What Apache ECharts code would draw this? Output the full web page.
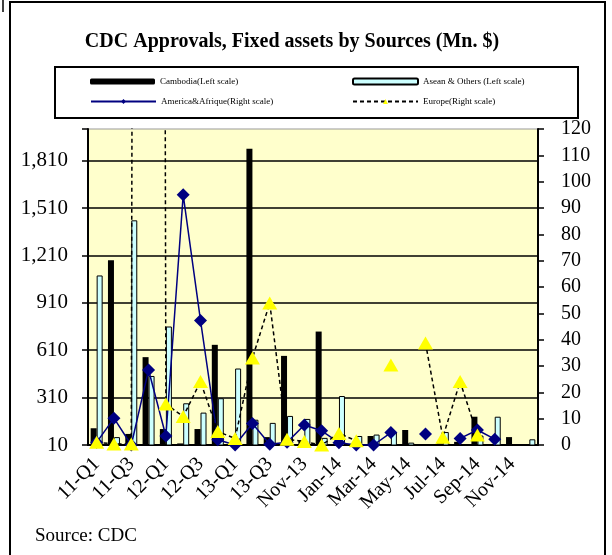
<!DOCTYPE html>
<html>
<head>
<meta charset="utf-8">
<script src="https://cdn.jsdelivr.net/npm/echarts@6/dist/echarts.min.js"></script>
<style>
  html, body { margin: 0; padding: 0; background: #fff; }
  #chart { width: 612px; height: 555px; }
</style>
</head>
<body>
<div id="chart"></div>
<script>
// categories, two per tick on the x axis
const categories = ['11-Q1', '11-Q2', '11-Q3', '11-Q4', '12-Q1', '12-Q2', '12-Q3', '12-Q4',
  '13-Q1', '13-Q2', '13-Q3', 'Oct-13', 'Nov-13', 'Dec-13', 'Jan-14', 'Feb-14', 'Mar-14',
  'Apr-14', 'May-14', 'Jun-14', 'Jul-14', 'Aug-14', 'Sep-14', 'Oct-14', 'Nov-14', 'Dec-14']

// left scale (Mn. $)
const cambodia = [116, 1180, 80, 566, 111, 20, 111, 644, 15, 1885, 60, 574, 40, 728, 15, 12,
  67, 0, 105, 0, 20, 30, 189, 0, 60, 0]
const asean = [1083, 60, 1432, 447, 760, 274, 215, 306, 494, 170, 150, 194, 175, 55, 320, 67,
  76, 92, 25, 0, 92, 0, 70, 189, 0, 46]

// right scale (Mn. $)
const america = [1, 10.2, 0, 28.5, 3.4, 95, 47.3, 2, 0, 8.2, 0.3, 1, 7.6, 5.4, 0.9, 0, 0,
  4.7, null, 4.2, null, 2.5, 5.7, 2.2, null, null]
const europe = [1, 0.4, 0.4, 3000, 15.6, 10.8, 24.1, 5.1, 2.5, 33, 53.9, 2.2, 1.3, 0, 4.4, 1.6,
  null, 30.4, null, 38.7, 2.9, 24.1, 3.8, null, null, null]

const names = ['Cambodia(Left scale)', 'Asean & Others (Left scale)',
  'America&Afrique(Right scale)', 'Europe(Right scale)']

const serif = 'Liberation Serif'
const chart = echarts.init(document.getElementById('chart'))

function legendAt(name, left, top) {
  return {
    data: [name],
    left: left,
    top: top,
    padding: 0,
    itemWidth: 65,
    itemHeight: 6,
    textStyle: { fontFamily: serif, fontSize: 9, color: '#000' }
  }
}

const option = {
  animation: false,
  backgroundColor: '#fff',
  title: {
    text: 'CDC Approvals, Fixed assets by Sources (Mn. $)',
    left: 287,
    textAlign: 'center',
    top: 27,
    textStyle: { fontFamily: serif, fontSize: 20, fontWeight: 'bold', color: '#000' }
  },
  legend: [
    legendAt(names[0], 90, 77),
    legendAt(names[1], 352, 77),
    legendAt(names[2], 90, 97),
    legendAt(names[3], 352, 97)
  ],
  grid: {
    left: 88,
    right: 74,
    top: 129,
    bottom: 110,
    show: true,
    backgroundColor: '#FFFFCC',
    borderColor: '#999',
    borderWidth: 1
  },
  xAxis: {
    type: 'category',
    data: categories,
    axisLine: { lineStyle: { color: '#000', width: 2 } },
    axisTick: { interval: 1, length: 5, lineStyle: { color: '#000', width: 1.5 } },
    axisLabel: {
      interval: 1,
      rotate: 45,
      margin: 16,
      fontFamily: serif,
      fontSize: 20,
      color: '#000'
    }
  },
  yAxis: [
    {
      type: 'value',
      min: 10,
      max: 2010,
      interval: 300,
      axisLine: { show: true, lineStyle: { color: '#000', width: 2 } },
      axisTick: { show: true, length: 6, lineStyle: { color: '#000', width: 1.5 } },
      axisLabel: {
        margin: 20,
        fontFamily: serif,
        fontSize: 21,
        color: '#000',
        formatter: v => v > 2000 ? '' : v.toLocaleString('en-US')
      },
      splitLine: { show: true, showMaxLine: false, lineStyle: { color: '#000', width: 1.5 } }
    },
    {
      type: 'value',
      min: 0,
      max: 120,
      interval: 10,
      position: 'right',
      axisLine: { show: true, lineStyle: { color: '#000', width: 2 } },
      axisTick: { show: true, length: 6, lineStyle: { color: '#000', width: 1.5 } },
      axisLabel: { margin: 23, fontFamily: serif, fontSize: 20, color: '#000' },
      splitLine: { show: false }
    }
  ],
  series: [
    {
      name: names[0],
      type: 'bar',
      yAxisIndex: 0,
      data: cambodia,
      barWidth: 6,
      barGap: '0%',
      clip: true,
      itemStyle: { color: '#000' }
    },
    {
      name: names[1],
      type: 'bar',
      yAxisIndex: 0,
      data: asean,
      barWidth: 6,
      barGap: '0%',
      clip: true,
      itemStyle: { color: '#CCFFFF', borderColor: '#000', borderWidth: 1 }
    },
    {
      name: names[2],
      type: 'line',
      yAxisIndex: 1,
      data: america,
      symbol: 'diamond',
      symbolSize: 13,
      showAllSymbol: true,
      clip: true,
      lineStyle: { color: '#000080', width: 1.5 },
      itemStyle: { color: '#000080' }
    },
    {
      name: names[3],
      type: 'line',
      yAxisIndex: 1,
      data: europe,
      symbol: 'triangle',
      symbolSize: [15, 13],
      showAllSymbol: true,
      clip: true,
      lineStyle: { color: '#000', width: 1.5, type: [4, 3] },
      itemStyle: { color: '#FFFF00' }
    }
  ],
  graphic: [
    // outer frame
    {
      type: 'rect',
      shape: { x: 10, y: 2, width: 595, height: 560 },
      style: { fill: null, stroke: '#000', lineWidth: 2 },
      silent: true
    },
    {
      type: 'polyline',
      shape: { points: [[3, 12], [3, 0]] },
      style: { stroke: '#000', lineWidth: 1.5 },
      silent: true
    },
    // legend box
    {
      type: 'rect',
      shape: { x: 55, y: 67, width: 523, height: 51 },
      style: { fill: null, stroke: '#000', lineWidth: 2 },
      z: -1,
      silent: true
    },
    {
      type: 'text',
      left: 35,
      top: 527,
      style: { text: 'Source: CDC', font: '19px "Liberation Serif"', fill: '#000' }
    }
  ]
}

chart.setOption(option)
window.addEventListener('resize', () => {
  chart.resize()
})
</script>
</body>
</html>
